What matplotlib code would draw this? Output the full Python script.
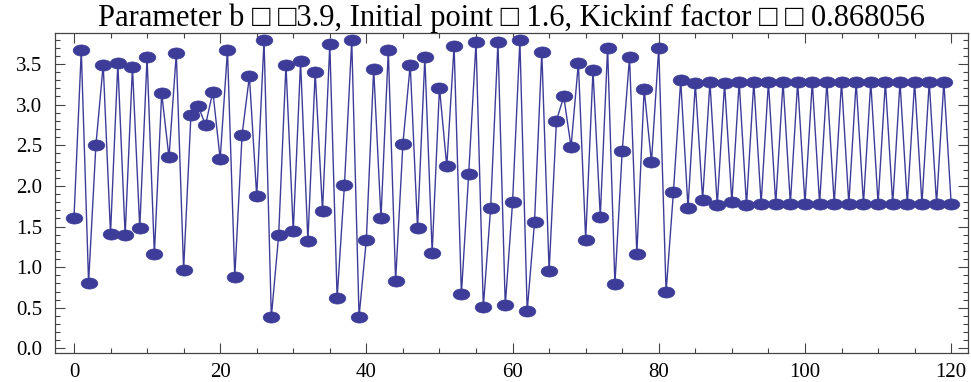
import numpy as np
import matplotlib
matplotlib.use('Agg')
import matplotlib.pyplot as plt
from matplotlib.path import Path
from matplotlib.ticker import MultipleLocator, FormatStrFormatter

plt.rcParams['font.family'] = ['Liberation Serif', 'DejaVu Serif']

title = 'Parameter b \u25a1 \u25a13.9, Initial point \u25a1 1.6, Kickinf factor \u25a1 \u25a1 0.868056'

# iterates, n = 0 .. 120
values = [1.60, 3.67, 0.81, 2.50, 3.49, 1.41, 3.51, 1.39, 3.46, 1.48,
          3.58, 1.16, 3.14, 2.35, 3.63, 0.97, 2.87, 2.98, 2.75, 3.16,
          2.33, 3.67, 0.88, 2.63, 3.35, 1.87, 3.79, 0.39, 1.39, 3.49,
          1.44, 3.53, 1.32, 3.40, 1.69, 3.74, 0.62, 2.01, 3.79, 0.39,
          1.34, 3.44, 1.60, 3.67, 0.83, 2.52, 3.49, 1.48, 3.58, 1.18,
          3.21, 2.24, 3.72, 0.67, 2.15, 3.77, 0.51, 1.73, 3.77, 0.53,
          1.80, 3.79, 0.46, 1.55, 3.65, 0.95, 2.80, 3.10, 2.48, 3.51,
          1.34, 3.42, 1.62, 3.70, 0.79, 2.43, 3.58, 1.16, 3.19, 2.29,
          3.70, 0.69, 1.92, 3.30, 1.73, 3.26, 1.83, 3.28, 1.76, 3.26,
          1.80, 3.28, 1.76, 3.28, 1.78, 3.28, 1.78, 3.28, 1.78, 3.28,
          1.78, 3.28, 1.78, 3.28, 1.78, 3.28, 1.78, 3.28, 1.78, 3.28,
          1.78, 3.28, 1.78, 3.28, 1.78, 3.28, 1.78, 3.28, 1.78, 3.28,
          1.78]
steps = np.arange(len(values))

blue = '#3d3d99'
frame = '#444444'

# flattened ellipse marker, like the stretched points of the original
circ = Path.unit_circle()
ellipse = Path(circ.vertices * np.array([1.5, 1.0]), circ.codes)

fig = plt.figure(figsize=(9.71, 3.82), dpi=100)
ax = fig.add_axes([0.0566, 0.076, 0.9403, 0.8375])

ax.plot(steps, values, color=blue, lw=1.0, marker=ellipse, ms=12,
        markerfacecolor=blue, markeredgecolor=blue, markeredgewidth=0.5)

ax.set_xlim(-2.6, 122.3)
ax.set_ylim(-0.055, 3.88)

ax.xaxis.set_major_locator(MultipleLocator(20))
ax.xaxis.set_minor_locator(MultipleLocator(5))
ax.yaxis.set_major_locator(MultipleLocator(0.5))
ax.yaxis.set_minor_locator(MultipleLocator(0.1))
ax.yaxis.set_major_formatter(FormatStrFormatter('%.1f'))

ax.tick_params(which='both', direction='in', top=True, right=True,
               color=frame, width=0.8, labelsize=15)
ax.tick_params(which='major', length=7)
ax.tick_params(which='minor', length=3.5)
ax.tick_params(axis='x', which='major', pad=7)
ax.tick_params(axis='y', which='major', pad=9)
for s in ax.spines.values():
    s.set_color(frame)
    s.set_linewidth(0.9)

ax.set_title(title, fontsize=22, pad=3)

fig.savefig('out.png', dpi=100)
